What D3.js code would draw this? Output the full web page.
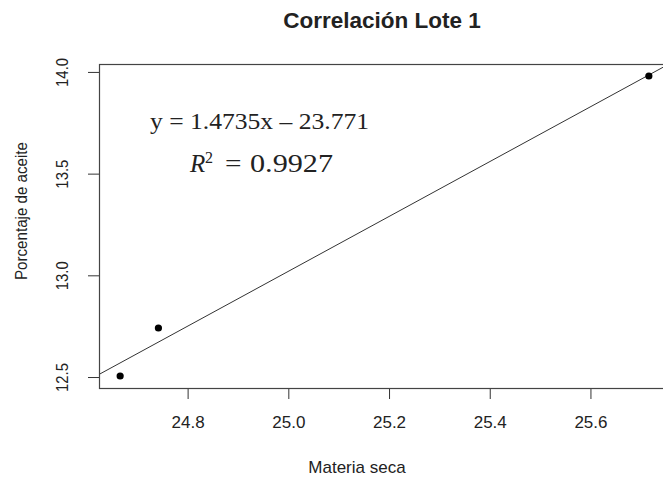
<!DOCTYPE html>
<html>
<head>
<meta charset="utf-8">
<script src="https://cdn.jsdelivr.net/npm/d3@7"></script>
<style>
  html, body { margin: 0; padding: 0; background: #fff; }
  svg { display: block; }
  text { fill: #222; }
</style>
</head>
<body>
<div id="chart"></div>
<script>
// Dry matter vs. oil percentage, batch 1
const materiaSeca = [24.666, 24.742, 25.716];
const porcentajeAceite = [12.505, 12.741, 13.980];
const xTicks = [24.8, 25.0, 25.2, 25.4, 25.6];
const yTicks = [12.5, 13.0, 13.5, 14.0];
const titulo = "Correlación Lote 1";
const etiquetaX = "Materia seca";
const etiquetaY = "Porcentaje de aceite";
const ecuacion = "y = 1.4735x – 23.771";
const r2Valor = "0.9927";

const W = 663, H = 477;
const plot = { left: 99, right: 670, top: 64, bottom: 388 };

// R-style axis limits: data range padded 4% on each side
function paddedExtent(v) {
  const [a, b] = d3.extent(v);
  const p = (b - a) * 0.04;
  return [a - p, b + p];
}

const x = d3.scaleLinear().domain(paddedExtent(materiaSeca)).range([plot.left, plot.right]);
const y = d3.scaleLinear().domain(paddedExtent(porcentajeAceite)).range([plot.bottom, plot.top]);

// least-squares fit for the trend line
const mx = d3.mean(materiaSeca), my = d3.mean(porcentajeAceite);
let sxy = 0, sxx = 0;
materiaSeca.forEach((xi, i) => {
  sxy += (xi - mx) * (porcentajeAceite[i] - my);
  sxx += (xi - mx) * (xi - mx);
});
const pendiente = sxy / sxx;
const intercepto = my - pendiente * mx;

const svg = d3.select("#chart").append("svg")
  .attr("width", W).attr("height", H)
  .style("font-family", "'Liberation Sans', Arial, sans-serif");

svg.append("defs").append("clipPath").attr("id", "plotArea")
  .append("rect")
  .attr("x", plot.left).attr("y", plot.top)
  .attr("width", plot.right - plot.left).attr("height", plot.bottom - plot.top);

// title
svg.append("text")
  .attr("x", 382).attr("y", 28)
  .attr("text-anchor", "middle")
  .attr("font-weight", "bold")
  .attr("font-size", 22.5)
  .text(titulo);

// x axis
const xAxis = d3.axisBottom(x).tickValues(xTicks).tickFormat(d3.format(".1f"))
  .tickSize(11).tickPadding(16);
const gx = svg.append("g").attr("transform", `translate(0,${plot.bottom})`).call(xAxis);
gx.select(".domain").remove();
gx.selectAll(".tick line").attr("stroke", "#333");
gx.selectAll(".tick text").attr("font-size", 17).attr("font-family", "'Liberation Sans', Arial, sans-serif")
  .attr("fill", "#222").attr("dy", null).attr("y", 40);

// y axis (labels rotated, as in base graphics)
const yAxis = d3.axisLeft(y).tickValues(yTicks).tickFormat(d3.format(".1f")).tickSize(11);
const gy = svg.append("g").attr("transform", `translate(${plot.left},0)`).call(yAxis);
gy.select(".domain").remove();
gy.selectAll(".tick line").attr("stroke", "#333");
gy.selectAll(".tick text")
  .attr("x", null).attr("dy", null)
  .attr("text-anchor", "middle")
  .attr("transform", "translate(-31,0) rotate(-90)")
  .attr("y", 0)
  .attr("font-size", 16.5)
  .attr("textLength", 29).attr("lengthAdjust", "spacingAndGlyphs")
  .attr("font-family", "'Liberation Sans', Arial, sans-serif")
  .attr("fill", "#222");

// axis titles
svg.append("text")
  .attr("x", 357).attr("y", 473)
  .attr("text-anchor", "middle")
  .attr("font-size", 17)
  .text(etiquetaX);

svg.append("text")
  .attr("transform", "translate(27,211) rotate(-90)")
  .attr("text-anchor", "middle")
  .attr("font-size", 16.5)
  .attr("textLength", 138).attr("lengthAdjust", "spacingAndGlyphs")
  .text(etiquetaY);

// trend line
const xd = x.domain();
svg.append("line")
  .attr("clip-path", "url(#plotArea)")
  .attr("x1", x(xd[0])).attr("y1", y(intercepto + pendiente * xd[0]))
  .attr("x2", x(xd[1])).attr("y2", y(intercepto + pendiente * xd[1]))
  .attr("stroke", "#333").attr("stroke-width", 1);

// points
svg.append("g").selectAll("circle")
  .data(materiaSeca.map((v, i) => [v, porcentajeAceite[i]]))
  .join("circle")
  .attr("cx", d => x(d[0])).attr("cy", d => y(d[1]))
  .attr("r", 3.6).attr("fill", "#000");

// plot box
svg.append("rect")
  .attr("x", plot.left + 0.5).attr("y", plot.top + 0.5)
  .attr("width", plot.right - plot.left).attr("height", plot.bottom - plot.top)
  .attr("fill", "none").attr("stroke", "#444").attr("stroke-width", 1.2);

// regression annotation
const serif = "'Liberation Serif', 'Times New Roman', serif";
svg.append("text")
  .attr("x", 150).attr("y", 128.5)
  .attr("font-family", serif).attr("font-size", 22.5)
  .attr("textLength", 219).attr("lengthAdjust", "spacingAndGlyphs")
  .attr("fill", "#000")
  .text(ecuacion);

const r2 = svg.append("g").attr("font-family", serif).attr("fill", "#000");
r2.append("text").attr("x", 190).attr("y", 172)
  .attr("font-size", 25).attr("font-style", "italic").attr("fill", "#000").text("R");
r2.append("text").attr("x", 205).attr("y", 163)
  .attr("font-size", 16).attr("fill", "#000").text("2");
r2.append("text").attr("x", 225).attr("y", 172)
  .attr("font-size", 25).attr("textLength", 16.5).attr("lengthAdjust", "spacingAndGlyphs")
  .attr("fill", "#000").text("=");
r2.append("text").attr("x", 250).attr("y", 172)
  .attr("font-size", 25).attr("textLength", 83).attr("lengthAdjust", "spacingAndGlyphs")
  .attr("fill", "#000").text(r2Valor);
</script>
</body>
</html>
